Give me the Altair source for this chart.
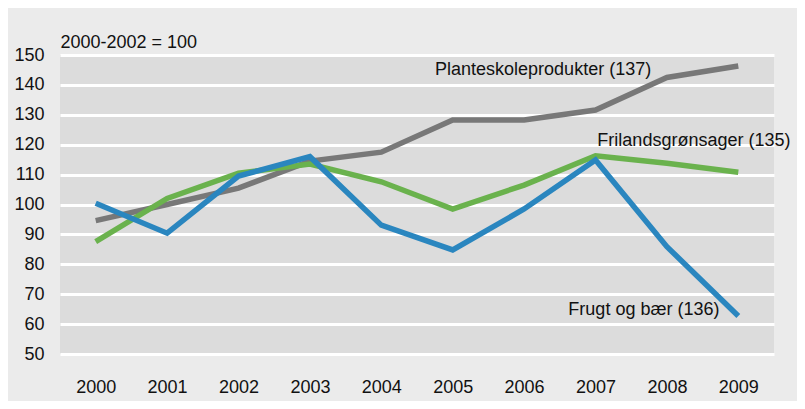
import altair as alt
import pandas as pd

years = ["2000", "2001", "2002", "2003", "2004", "2005", "2006", "2007", "2008", "2009"]
plante = [94.6, 100.0, 105.5, 114.5, 117.5, 128.3, 128.3, 131.6, 142.5, 146.3]
friland = [87.6, 102.0, 110.5, 113.5, 107.6, 98.5, 106.5, 116.3, 113.8, 110.8]
frugt = [100.4, 90.4, 109.5, 116.0, 93.1, 84.8, 98.5, 114.9, 85.9, 62.7]

series_names = ["Planteskoleprodukter", "Frilandsgrønsager", "Frugt og bær"]
series_colors = ["#787878", "#6ab24d", "#2a86bf"]

label_texts = ["Planteskoleprodukter (137)", "Frilandsgrønsager (135)", "Frugt og bær (136)"]
label_years = ["2006", "2008", "2008"]
label_values = [145.0, 121.2, 64.7]
label_dx = [19, 27, -23]

y_ticks = [50, 60, 70, 80, 90, 100, 110, 120, 130, 140, 150]

FONT = "Liberation Sans"
FS = 18

rows = []
for name, vals in zip(series_names, [plante, friland, frugt]):
    for y, v in zip(years, vals):
        rows.append({"year": y, "value": v, "series": name})
df = pd.DataFrame(rows)

lab = pd.DataFrame({"year": label_years, "value": label_values, "text": label_texts, "dx": label_dx})

x_axis = alt.Axis(title=None, labelAngle=0, ticks=False, domain=False, grid=False,
                  labelFont=FONT, labelFontSize=FS, labelColor="#111111", labelPadding=24)
y_axis = alt.Axis(values=y_ticks, tickCount=11, ticks=False, domain=False, grid=True,
                  gridColor="white", gridWidth=3, labelFont=FONT, labelFontSize=FS,
                  labelColor="#111111", labelPadding=16, labelOverlap=False,
                  title="2000-2002 = 100", titleAngle=0, titleAlign="left",
                  titleBaseline="alphabetic", titleX=0, titleY=-8,
                  titleFont=FONT, titleFontSize=FS, titleFontWeight="normal",
                  titleColor="#111111")
x_scale = alt.Scale(domain=years, padding=0.5)
y_scale = alt.Scale(domain=[50, 150], nice=False, zero=False)

lines = alt.Chart(df).mark_line(strokeWidth=5.5, strokeJoin="miter").encode(
    x=alt.X("year:N", scale=x_scale, axis=x_axis),
    y=alt.Y("value:Q", scale=y_scale, axis=y_axis),
    color=alt.Color("series:N", scale=alt.Scale(domain=series_names, range=series_colors), legend=None),
)

texts = []
for i in range(3):
    t = alt.Chart(lab.iloc[[i]]).mark_text(font=FONT, fontSize=FS, color="#111111",
                                             align="center", baseline="middle", dx=label_dx[i]).encode(
        x=alt.X("year:N", scale=x_scale, axis=x_axis),
        y=alt.Y("value:Q", scale=y_scale, axis=y_axis),
        text="text:N")
    texts.append(t)

chart = alt.layer(lines, *texts).properties(
    width=714, height=299,
    background="#ebebeb",
    padding={"left": 52, "top": 47, "right": 23, "bottom": 47},
    autosize=alt.AutoSizeParams(type="none"),
).configure_view(fill="#dcdcdc", stroke=None)

chart.save("out.html", embed_options={"renderer": "svg", "actions": False})
